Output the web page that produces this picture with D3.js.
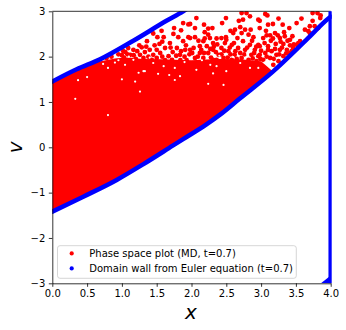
<!DOCTYPE html>
<html>
	<head>
		<meta charset="utf-8">
		<script src="https://d3js.org/d3.v7.min.js"></script>
		<style>
			html, body { margin: 0; padding: 0; background: #fff; }
			text { font-family: "DejaVu Sans", sans-serif; fill: #000; }
		</style>
	</head>
	<body>
		<script>
			var xTicks = [0, 0.5, 1, 1.5, 2, 2.5, 3, 3.5, 4];
			var vTicks = [-3, -2, -1, 0, 1, 2, 3];
			var legendLabels = ["Phase space plot (MD, t=0.7)", "Domain wall from Euler equation (t=0.7)"];

			// domain wall
			var wallUpperX = [0, 0.35, 0.685, 1.164, 1.64, 1.88, 1.96];
			var wallUpperV = [1.45, 1.72, 1.94, 2.35, 2.79, 3.0, 3.08];
			var wallLowerX = [0, 0.445, 0.925, 1.31, 1.73, 1.88, 2.21, 2.41, 2.69, 3.17, 3.65, 3.975, 4];
			var wallLowerV = [-1.42, -1.09, -0.72, -0.37, 0.035, 0.18, 0.5, 0.72, 1.07, 1.67, 2.37, 2.85, 2.88];
			var wallEdgeX = [4, 4];
			var wallEdgeV = [-3, 3];
			var wallWrapX = [3.86, 4, 4];
			var wallWrapV = [-3, -2.83, -3];

			// top of the solid part of the cloud
			var cloudTopX = [0, 0.35, 0.6, 0.9, 1.1, 1.3, 1.6, 2, 2.4, 2.7, 3, 3.17];
			var cloudTopV = [1.45, 1.72, 1.87, 1.96, 1.98, 1.95, 1.94, 1.92, 1.95, 1.94, 1.9, 1.67];

			// separate particles above the solid part
			var particleX = [1.88, 1.75, 1.74, 1.85, 1.955, 1.57, 1.45, 1.51, 1.6, 1.81, 1.955, 1.88, 1.54, 1.36, 1.285, 1.69, 1.62, 1.79, 1.91, 1.165, 1.4, 1.12, 1.26, 1.45, 1.67, 1.835, 1.55, 1.31, 1.02, 1.09,
				2.72, 2.79, 2.84, 2.74, 2.68, 2.495, 2.44, 2.18, 2.07, 2.96, 2.05, 1.98, 2.24, 2.3, 2.7, 2.77, 2.85, 2.56, 2.625, 2.19, 2.6, 2.72, 2.82, 2.89, 2.24, 2.265, 2.05, 1.98, 2.36, 2.43, 2.495, 2.66, 2.74, 2.17, 2.31, 2.48, 2.58, 2.96, 2.84, 2.12, 2.22, 2.43, 2.67, 2.77, 2.91, 2.03, 2.31, 2.53, 2.12, 2.24, 2.39, 2.62, 2.86, 2.96, 2.46, 2.72, 2.17, 2.05, 2.31, 2.58, 2.82, 2.935,
				3.06, 3.09, 3.74, 3.81, 3.855, 3.58, 3.74, 3.85, 3.25, 3.51, 3.31, 3.17, 3.1, 2.98, 3.405, 3.7, 3.77, 3.82, 3.63, 3.68, 3.7, 3.07, 2.98, 3.2, 3.33, 3.13, 3.34, 3.27, 3.17, 3.03, 3.415, 3.56, 3.51, 3.535, 3.21, 3.32, 3.415, 3.46, 3.1, 2.98, 3.27, 3.37, 3.15, 3.415, 3.06, 3.22, 3.32, 2.98, 3.13, 3.25, 3.03, 3.175,
				0.95, 0.85, 1, 1.05, 0.78,
				1.03, 1.08, 1.17, 1.22, 1.2, 1.33, 1.38, 1.43, 1.5, 1.5, 1.58, 1.62, 1.73, 1.72, 1.78, 1.85, 1.9, 1.93, 1.97, 1.84, 1.25, 1.35, 1.47, 1.58, 1.7, 1.92, 1.98,
				2.01, 2.09, 2.14, 2.18, 2.27, 2.28, 2.35, 2.36, 2.43, 2.47, 2.52, 2.56, 2.63, 2.65, 2.7, 2.76, 2.8, 2.88, 2.9, 2.93, 2.99, 2.55, 2.37, 2.61, 2.87, 2.19, 2.1, 2.5, 2.32, 3,
				3.08, 3.1, 3.18, 3.2, 3.26, 3.3, 3.36, 3.44, 3.47, 3.28, 3.38, 3.05, 3.14, 3.24, 3.08, 3.45];
			var particleV = [2.74, 2.63, 2.5, 2.58, 2.71, 2.57, 2.51, 2.43, 2.43, 2.43, 2.43, 2.34, 2.28, 2.34, 2.205, 2.3, 2.19, 2.19, 2.15, 2.15, 2.15, 2.04, 2.04, 2.04, 2.01, 2.04, 2.08, 1.97, 2.12, 2.19,
				2.96, 2.96, 2.89, 2.815, 2.79, 2.85, 2.74, 2.705, 2.85, 2.815, 2.63, 2.72, 2.62, 2.63, 2.65, 2.595, 2.595, 2.57, 2.595, 2.54, 2.52, 2.52, 2.485, 2.43, 2.485, 2.41, 2.43, 2.41, 2.4, 2.41, 2.43, 2.41, 2.34, 2.34, 2.3, 2.3, 2.26, 2.26, 2.26, 2.23, 2.23, 2.19, 2.19, 2.15, 2.15, 2.19, 2.15, 2.12, 2.08, 2.08, 2.04, 2.04, 2.04, 2.01, 1.97, 1.97, 1.97, 1.97, 1.93, 1.93, 1.93, 1.9,
				2.94, 2.91, 2.96, 2.96, 2.91, 2.84, 2.79, 2.85, 2.84, 2.74, 2.705, 2.72, 2.705, 2.79, 2.63, 2.67, 2.67, 2.63, 2.595, 2.56, 2.52, 2.57, 2.63, 2.52, 2.54, 2.47, 2.45, 2.41, 2.4, 2.41, 2.37, 2.34, 2.26, 2.3, 2.28, 2.28, 2.25, 2.19, 2.23, 2.23, 2.15, 2.15, 2.12, 2.08, 2.08, 2.04, 2.01, 2.04, 1.97, 1.9, 1.93, 1.82,
				2.05, 2, 2.03, 2.1, 1.97,
				1.98, 2.05, 2.03, 2.12, 1.95, 2.1, 2, 1.93, 2.15, 1.97, 2, 1.92, 2.1, 1.93, 2.02, 2.12, 2, 1.92, 2.05, 1.92, 2.25, 2.22, 2.25, 2.33, 2.2, 2.25, 2.15,
				2.08, 2, 2.15, 2.08, 2.17, 1.98, 2.1, 1.93, 2.05, 2.13, 1.98, 2.05, 2.12, 1.95, 2.08, 2.05, 2.2, 1.96, 2.08, 2.22, 1.95, 2.2, 2.27, 2.3, 2.35, 2.4, 2.35, 2.37, 2.22, 2.13,
				2, 2.15, 1.95, 2.17, 2.05, 2.2, 2.07, 2.12, 2.27, 2.33, 2.35, 2.3, 2.35, 2.47, 2.47, 2.45];

			// little white gaps left inside the solid part, drawn after the particles
			var gapX = [0.73, 0.8, 0.9, 1.33, 1.24, 1.52, 1.68, 1.835, 1.19, 1, 1.76, 2.31, 2.24, 2.46, 1.26, 2.36, 2.7, 2.27, 2.84, 2.07, 2.5, 2.96, 1.045, 1.31, 1.6, 1.76, 1.45, 1.165, 0.37, 0.5, 0.33, 0.8, 1.4, 1.9, 2.15, 2.6, 2.8, 3.05, 3.15, 2.4, 1.1, 0.95];
			var gapV = [1.84, 1.75, 1.87, 1.68, 1.645, 1.62, 1.595, 1.57, 1.45, 1.5, 1.485, 1.63, 1.4, 1.375, 1.23, 1.79, 1.86, 1.82, 1.75, 1.71, 1.68, 1.75, 1.82, 1.68, 1.79, 1.75, 1.86, 1.93, 1.48, 1.55, 1.07, 0.71, 1.98, 1.88, 1.92, 1.99, 2.06, 1.87, 1.9, 2.02, 2.0, 1.92];

			var width = 346;
			var height = 330;
			var left = 52.3, right = 330.7, top_ = 11.3, bottom = 283.3;

			var svg = d3.select('body').append('svg')
				.attr('width', width)
				.attr('height', height)
				.style('display', 'block');

			var x = d3.scaleLinear().domain([0, 4]).range([left, right]);
			var y = d3.scaleLinear().domain([-3, 3]).range([bottom, top_]);

			svg.append('clipPath').attr('id', 'plot')
				.append('rect')
				.attr('x', left)
				.attr('y', top_)
				.attr('width', right - left + 1)
				.attr('height', bottom - top_);

			var plot = svg.append('g').attr('clip-path', 'url(#plot)');

			function zipped(xs, vs) {
				return xs.map(function (d, i) { return [d, vs[i]]; });
			}
			var line = d3.line()
				.x(function (d) { return x(d[0]); })
				.y(function (d) { return y(d[1]); });
			var smooth = d3.line()
				.x(function (d) { return x(d[0]); })
				.y(function (d) { return y(d[1]); })
				.curve(d3.curveMonotoneX);

			// solid body: below the cloud top, above the lower wall
			var lowerAt = d3.scaleLinear().domain(wallLowerX).range(wallLowerV);
			var topAt = d3.scaleLinear().domain(cloudTopX).range(cloudTopV);
			var bodyX = d3.merge([cloudTopX, wallLowerX.filter(function (d) { return d < 3.17; })]).sort(d3.ascending);
			var area = d3.area()
				.x(function (d) { return x(d); })
				.y1(function (d) { return y(topAt(d)); })
				.y0(function (d) { return y(lowerAt(d)); });
			plot.append('path')
				.attr('d', area(bodyX))
				.attr('fill', '#ff0000');

			plot.selectAll('circle.particle')
				.data(zipped(particleX, particleV))
				.enter().append('circle')
				.attr('class', 'particle')
				.attr('cx', function (d) { return x(d[0]); })
				.attr('cy', function (d) { return y(d[1]); })
				.attr('r', 2.4)
				.attr('fill', '#ff0000');

			plot.selectAll('circle.gap')
				.data(zipped(gapX, gapV))
				.enter().append('circle')
				.attr('class', 'gap')
				.attr('cx', function (d) { return x(d[0]); })
				.attr('cy', function (d) { return y(d[1]); })
				.attr('r', 1.1)
				.attr('fill', '#fff');

			[zipped(wallUpperX, wallUpperV), zipped(wallLowerX, wallLowerV)].forEach(function (d) {
				plot.append('path')
					.attr('d', smooth(d))
					.attr('fill', 'none')
					.attr('stroke', '#0000ff')
					.attr('stroke-width', 4.5)
					.attr('stroke-linejoin', 'round')
					.attr('stroke-linecap', 'round');
			});
			plot.append('path')
				.attr('d', line(zipped(wallWrapX, wallWrapV)) + 'Z')
				.attr('fill', '#0000ff');

			var xAxis = svg.append('g')
				.attr('transform', 'translate(0,' + bottom + ')')
				.call(d3.axisBottom(x).tickValues(xTicks).tickFormat(d3.format('.1f')).tickSize(3.5).tickSizeOuter(0).tickPadding(3.5));
			var yAxis = svg.append('g')
				.attr('transform', 'translate(' + left + ',0)')
				.call(d3.axisLeft(y).tickValues(vTicks).tickFormat(function (d) { return d < 0 ? '\u2212' + (-d) : d; }).tickSize(3.5).tickSizeOuter(0).tickPadding(3.5));
			svg.selectAll('.tick text').style('font-size', '10px').style('font-family', '"DejaVu Sans"');
			svg.selectAll('.domain').attr('stroke-width', 0.8);
			svg.selectAll('.tick line').attr('stroke-width', 0.8);

			svg.append('line')
				.attr('x1', left).attr('x2', right)
				.attr('y1', top_).attr('y2', top_)
				.attr('stroke', '#000').attr('stroke-width', 0.8);

			// right edge wall sits over the spine
			svg.append('clipPath').attr('id', 'edge')
				.append('rect')
				.attr('x', left).attr('y', top_ - 1)
				.attr('width', right - left + 1).attr('height', bottom - top_ + 1);
			svg.append('path')
				.attr('clip-path', 'url(#edge)')
				.attr('d', line(zipped(wallEdgeX, wallEdgeV)))
				.attr('fill', 'none')
				.attr('stroke', '#0000ff')
				.attr('stroke-width', 4.5);

			var legend = svg.append('g');
			legend.append('rect')
				.attr('x', 57.5).attr('y', 245.7)
				.attr('width', 238.8).attr('height', 32.6)
				.attr('rx', 2.5)
				.attr('fill', '#fff').attr('fill-opacity', 0.8)
				.attr('stroke', '#ccc').attr('stroke-width', 0.8);
			var legendColors = ['#ff0000', '#0000ff'];
			legendLabels.forEach(function (d, i) {
				legend.append('circle')
					.attr('cx', 71.7).attr('cy', 253.4 + i * 15)
					.attr('r', 2.1)
					.attr('fill', legendColors[i]);
				legend.append('text')
					.attr('x', 89.3).attr('y', 257 + i * 15)
					.style('font-size', '10px')
					.text(d);
			});

			svg.append('text')
				.attr('x', 191).attr('y', 319)
				.attr('text-anchor', 'middle')
				.style('font-size', '20px').style('font-style', 'italic')
				.text('x');
			svg.append('text')
				.attr('transform', 'translate(21.7,147.3) rotate(-90)')
				.attr('text-anchor', 'middle')
				.style('font-size', '20px').style('font-style', 'italic')
				.text('v');
		</script>
	</body>
</html>
